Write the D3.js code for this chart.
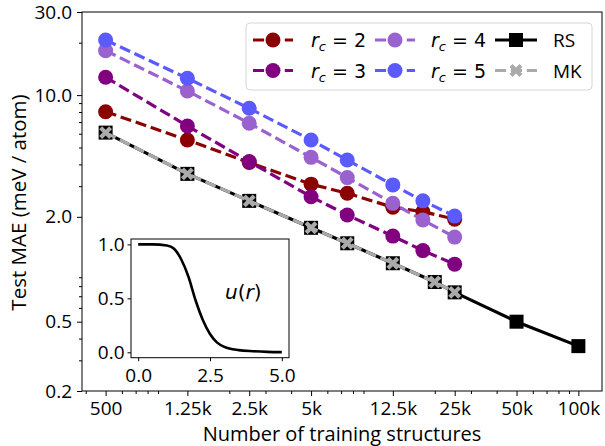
<!DOCTYPE html>
<html><head><meta charset="utf-8">
<script src="https://cdn.jsdelivr.net/npm/d3@7"></script>
<style>
body{margin:0;background:#fff}
svg{display:block;background:#fff}
text{font-family:"Open Sans",sans-serif;fill:#000}
.math{font-family:"DejaVu Sans",sans-serif}
</style></head><body>
<svg id="c" width="605" height="446"></svg>
<script>
// ---------- data ----------
const xTrain = [500, 1250, 2500, 5000, 7500, 12500, 17500, 25000];
const rc2 = [8.03, 5.52, 4.10, 3.08, 2.73, 2.27, 2.14, 1.94];
const rc3 = [12.66, 6.65, 4.15, 2.61, 2.05, 1.55, 1.28, 1.07];
const rc4 = [18.0, 10.56, 6.89, 4.39, 3.36, 2.39, 1.92, 1.53];
const rc5 = [20.7, 12.49, 8.40, 5.52, 4.24, 3.05, 2.47, 2.02];
const xRS = [500, 1250, 2500, 5000, 7500, 12500, 20000, 25000, 50000, 100000];
const rsVals = [6.09, 3.53, 2.47, 1.73, 1.41, 1.083, 0.845, 0.737, 0.500, 0.362];
const xMK = [500, 1250, 2500, 5000, 7500, 12500, 20000, 25000];
const mkVals = [6.09, 3.53, 2.47, 1.73, 1.41, 1.083, 0.845, 0.737];

const xMajorTicks = [500, 1250, 2500, 5000, 12500, 25000, 50000, 100000];
const xMajorLabels = ["500", "1.25k", "2.5k", "5k", "12.5k", "25k", "50k", "100k"];
const xMinorTicks = [400, 600, 700, 800, 900, 2000, 3000, 4000, 6000, 7000, 8000, 9000,
  20000, 30000, 40000, 60000, 70000, 80000, 90000];
const yMajorTicks = [0.2, 0.5, 2, 10, 30];
const yMajorLabels = ["0.2", "0.5", "2.0", "10.0", "30.0"];
const yMinorTicks = [0.3, 0.4, 0.6, 0.7, 0.8, 0.9, 3, 4, 5, 6, 7, 8, 9, 20];

// inset: cutoff function u(r)
const uR = [0, 0.5, 1.0, 1.25, 1.5, 1.75, 2.0, 2.25, 2.5, 2.75, 3.0, 3.5, 4.0, 4.5, 5.0];
const uV = [1.0, 1.0, 0.99, 0.96, 0.86, 0.70, 0.48, 0.30, 0.17, 0.09, 0.05, 0.02, 0.01, 0.004, 0.002];
const insetXTicks = [0, 2.5, 5];
const insetYTicks = [0, 0.5, 1];

const series = [
  {name: "2", vals: rc2, color: "#8b0000"},
  {name: "3", vals: rc3, color: "#800080"},
  {name: "4", vals: rc4, color: "#9a62cf"},
  {name: "5", vals: rc5, color: "#5a5aff"}
];
const mkColor = "#aaaaaa";

// ---------- layout ----------
const svg = d3.select("#c");
const L = 82, R = 602, T = 12, B = 391;
const FS = 19;
const x = d3.scaleLog().domain([383.7, 130310]).range([L, R]);
const y = d3.scaleLog().domain([0.2, 30]).range([B, T]);

// axes
function styleAxis(g) {
  g.select(".domain").remove();
  g.selectAll("line").attr("stroke", "#000").attr("stroke-width", 1);
  g.selectAll("text").attr("font-size", FS).attr("font-family", '"Open Sans",sans-serif');
}
svg.append("g").attr("transform", `translate(0,${B})`)
  .call(d3.axisBottom(x).tickValues(xMinorTicks).tickSize(3).tickFormat(""))
  .call(styleAxis);
svg.append("g").attr("transform", `translate(0,${B})`)
  .call(d3.axisBottom(x).tickValues(xMajorTicks).tickSize(5).tickPadding(6)
    .tickFormat((d, i) => xMajorLabels[i]))
  .call(styleAxis);
svg.append("g").attr("transform", `translate(${L},0)`)
  .call(d3.axisLeft(y).tickValues(yMinorTicks).tickSize(3).tickFormat(""))
  .call(styleAxis);
svg.append("g").attr("transform", `translate(${L},0)`)
  .call(d3.axisLeft(y).tickValues(yMajorTicks).tickSize(5).tickPadding(5)
    .tickFormat((d, i) => yMajorLabels[i]))
  .call(styleAxis);

// frame
svg.append("rect").attr("x", L).attr("y", T).attr("width", R - L).attr("height", B - T)
  .attr("fill", "none").attr("stroke", "#000").attr("stroke-width", 1);

// axis labels
svg.append("text").attr("x", (L + R) / 2).attr("y", 441).attr("text-anchor", "middle")
  .attr("font-size", 20).text("Number of training structures");
svg.append("text").attr("transform", `translate(26,${(T + B) / 2 + 1}) rotate(-90)`)
  .attr("text-anchor", "middle").attr("font-size", 20.5).text("Test MAE (meV / atom)");

// markers
const xMarkPath = (() => {
  const s = 7, w = 2.1;
  const p = [[-w,-s],[w,-s],[w,-w],[s,-w],[s,w],[w,w],[w,s],[-w,s],[-w,w],[-s,w],[-s,-w],[-w,-w]];
  const c = Math.SQRT1_2;
  return "M" + p.map(([a,b]) => [(a - b) * c, (a + b) * c].join(",")).join("L") + "Z";
})();

const lineGen = (xs) => d3.line().x((d, i) => x(xs[i])).y(d => y(d));

const plot = svg.append("g");
series.forEach(s => {
  const g = plot.append("g");
  g.append("path").datum(s.vals).attr("d", lineGen(xTrain))
    .attr("fill", "none").attr("stroke", s.color).attr("stroke-width", 3.2)
    .attr("stroke-dasharray", "11.1,4.8");
  g.selectAll("circle").data(s.vals).join("circle")
    .attr("cx", (d, i) => x(xTrain[i])).attr("cy", d => y(d)).attr("r", 7.5)
    .attr("fill", s.color);
});
// RS
const gRS = plot.append("g");
gRS.append("path").datum(rsVals).attr("d", lineGen(xRS)).attr("fill", "none")
  .attr("stroke", "#000").attr("stroke-width", 3.2);
gRS.selectAll("rect").data(rsVals).join("rect")
  .attr("x", (d, i) => x(xRS[i]) - 7).attr("y", d => y(d) - 7)
  .attr("width", 14).attr("height", 14).attr("fill", "#000");
// MK
const gMK = plot.append("g");
gMK.append("path").datum(mkVals).attr("d", lineGen(xMK)).attr("fill", "none")
  .attr("stroke", mkColor).attr("stroke-width", 3.2).attr("stroke-dasharray", "11.1,4.8");
gMK.selectAll("path.mk").data(mkVals).join("path").attr("class", "mk")
  .attr("d", xMarkPath)
  .attr("transform", (d, i) => `translate(${x(xMK[i])},${y(d)})`)
  .attr("fill", mkColor);

// ---------- legend ----------
const lg = svg.append("g");
lg.append("rect").attr("x", 246).attr("y", 23).attr("width", 346).attr("height", 67)
  .attr("rx", 4).attr("fill", "#fff").attr("fill-opacity", 0.8)
  .attr("stroke", "#d6d6d6").attr("stroke-width", 1);
const colX = [253, 375, 495];
const rowY = [40, 70.5];
const textX = [311, 431, 553];
const legendItems = [
  {col: 0, row: 0, s: series[0]}, {col: 0, row: 1, s: series[1]},
  {col: 1, row: 0, s: series[2]}, {col: 1, row: 1, s: series[3]}
];
legendItems.forEach(it => {
  const x0 = colX[it.col], yy = rowY[it.row];
  lg.append("line").attr("x1", x0).attr("x2", x0 + 40).attr("y1", yy).attr("y2", yy)
    .attr("stroke", it.s.color).attr("stroke-width", 3.2).attr("stroke-dasharray", "11.1,4.8");
  lg.append("circle").attr("cx", x0 + 20).attr("cy", yy).attr("r", 7.5).attr("fill", it.s.color);
  const t = lg.append("text").attr("class", "math").attr("x", textX[it.col]).attr("y", yy + 7)
    .attr("font-size", FS);
  t.append("tspan").attr("font-style", "italic").text("r");
  t.append("tspan").attr("font-style", "italic").attr("font-size", 13).attr("dy", 4).text("c");
  t.append("tspan").attr("dy", -4).text(" = " + it.s.name);
});
{
  const x0 = colX[2];
  lg.append("line").attr("x1", x0).attr("x2", x0 + 42).attr("y1", rowY[0]).attr("y2", rowY[0])
    .attr("stroke", "#000").attr("stroke-width", 3.2);
  lg.append("rect").attr("x", x0 + 21 - 7).attr("y", rowY[0] - 7).attr("width", 14).attr("height", 14)
    .attr("fill", "#000");
  lg.append("text").attr("x", textX[2]).attr("y", rowY[0] + 7).attr("font-size", FS).text("RS");
  lg.append("line").attr("x1", x0).attr("x2", x0 + 42).attr("y1", rowY[1]).attr("y2", rowY[1])
    .attr("stroke", mkColor).attr("stroke-width", 3.2).attr("stroke-dasharray", "11.1,4.8");
  lg.append("path").attr("d", xMarkPath).attr("transform", `translate(${x0 + 21},${rowY[1]})`)
    .attr("fill", mkColor);
  lg.append("text").attr("x", textX[2]).attr("y", rowY[1] + 7).attr("font-size", FS).text("MK");
}

// ---------- inset ----------
const ix = d3.scaleLinear().domain([-0.25, 5.25]).range([131, 289]);
const iy = d3.scaleLinear().domain([-0.05, 1.05]).range([357.7, 239]);
const ig = svg.append("g");
ig.append("rect").attr("x", 131).attr("y", 239).attr("width", 158).attr("height", 118.7)
  .attr("fill", "#fff").attr("stroke", "none");
ig.append("g").attr("transform", "translate(0,357.7)")
  .call(d3.axisBottom(ix).tickValues(insetXTicks).tickSize(3.5).tickPadding(7)
    .tickFormat(d3.format(".1f")))
  .call(styleAxis);
ig.append("g").attr("transform", "translate(131,0)")
  .call(d3.axisLeft(iy).tickValues(insetYTicks).tickSize(3.5).tickPadding(3)
    .tickFormat(d3.format(".1f")))
  .call(styleAxis);
ig.append("path").datum(uV)
  .attr("d", d3.line().x((d, i) => ix(uR[i])).y(d => iy(d)).curve(d3.curveMonotoneX))
  .attr("fill", "none").attr("stroke", "#000").attr("stroke-width", 2.6);
ig.append("rect").attr("x", 131).attr("y", 239).attr("width", 158).attr("height", 118.7)
  .attr("fill", "none").attr("stroke", "#000").attr("stroke-width", 1);
const ut = ig.append("text").attr("class", "math").attr("x", 225).attr("y", 299).attr("font-size", 20);
ut.append("tspan").attr("font-style", "italic").text("u");
ut.append("tspan").text("(");
ut.append("tspan").attr("font-style", "italic").text("r");
ut.append("tspan").text(")");
</script>
</body></html>
